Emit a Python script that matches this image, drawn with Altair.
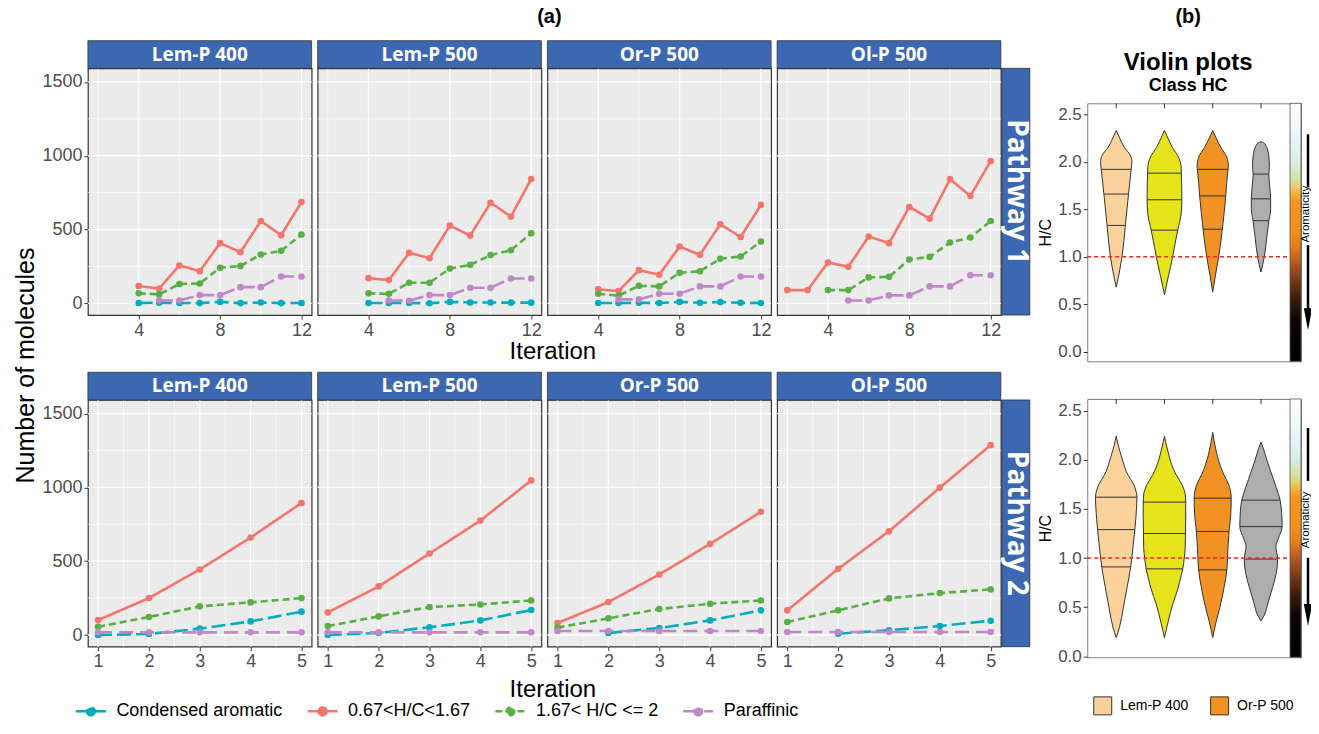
import altair as alt
import pandas as pd

# ---------------- data ----------------
SAMPLES = ["Lem-P 400", "Lem-P 500", "Or-P 500", "Ol-P 500"]
CLASSES = ["Condensed aromatic", "0.67<H/C<1.67", "1.67< H/C <= 2", "Paraffinic"]
CLASS_COLORS = ["#00ADBF", "#F4756C", "#58AF44", "#C188C9"]
CLASS_DASHES = [[14, 5], [1, 0], [7, 4], [14, 7]]
PATHWAYS = ["Pathway 1", "Pathway 2"]

ITER_P1 = [2, 3, 4, 5, 6, 7, 8, 9, 10, 11, 12]
ITER_P2 = [1, 2, 3, 4, 5]

P1_LEM400_COND = [None, None, 3, 5, 3, 2, 10, 2, 6, 2, 3]
P1_LEM400_MID = [None, None, 117, 101, 257, 218, 408, 347, 558, 462, 687]
P1_LEM400_HIGH = [None, None, 68, 61, 131, 135, 241, 254, 331, 356, 466]
P1_LEM400_PARA = [None, None, None, 20, 20, 56, 56, 110, 110, 182, 182]

P1_LEM500_COND = [None, None, 3, 3, 3, 1, 10, 6, 6, 5, 5]
P1_LEM500_MID = [None, None, 171, 158, 342, 306, 527, 459, 682, 588, 842]
P1_LEM500_HIGH = [None, None, 68, 65, 140, 140, 236, 261, 327, 360, 475]
P1_LEM500_PARA = [None, None, None, 20, 18, 56, 56, 106, 106, 169, 169]

P1_ORP500_COND = [None, None, 3, 3, 4, 3, 10, 4, 9, 4, 3]
P1_ORP500_MID = [None, None, 95, 83, 225, 194, 385, 329, 536, 450, 667]
P1_ORP500_HIGH = [None, None, 65, 52, 119, 115, 207, 218, 302, 318, 419]
P1_ORP500_PARA = [None, None, None, 27, 27, 65, 65, 115, 115, 182, 182]

P1_OLP500_COND = [None, None, None, None, None, None, None, None, None, None, None]
P1_OLP500_MID = [90, 90, 277, 248, 453, 408, 653, 574, 842, 727, 964]
P1_OLP500_HIGH = [None, None, 90, 90, 176, 180, 297, 315, 412, 446, 558]
P1_OLP500_PARA = [None, None, None, 20, 20, 54, 54, 115, 115, 191, 191]

P2_LEM400_COND = [0, 7, 43, 92, 158]
P2_LEM400_MID = [101, 250, 444, 660, 894]
P2_LEM400_HIGH = [56, 122, 194, 221, 250]
P2_LEM400_PARA = [18, 18, 18, 18, 18]

P2_LEM500_COND = [0, 14, 52, 99, 169]
P2_LEM500_MID = [153, 329, 552, 775, 1047]
P2_LEM500_HIGH = [61, 126, 189, 207, 234]
P2_LEM500_PARA = [18, 18, 18, 18, 18]

P2_ORP500_COND = [None, 14, 47, 99, 167]
P2_ORP500_MID = [81, 223, 410, 617, 835]
P2_ORP500_HIGH = [50, 113, 176, 212, 234]
P2_ORP500_PARA = [27, 27, 27, 27, 27]

P2_OLP500_COND = [None, 9, 32, 61, 97]
P2_OLP500_MID = [167, 448, 703, 998, 1286]
P2_OLP500_HIGH = [88, 167, 248, 284, 309]
P2_OLP500_PARA = [20, 20, 20, 20, 20]

Y_DOMAIN = [-79, 1592]
Y_MAJOR = [0, 500, 1000, 1500]
Y_MINOR = [250, 750, 1250]
X1_DOMAIN = [1.5, 12.5]
X1_MAJOR = [4, 8, 12]
X1_MINOR = [2, 6, 10]
X2_DOMAIN = [0.8, 5.2]
X2_MAJOR = [1, 2, 3, 4, 5]
X2_MINOR = [1.5, 2.5, 3.5, 4.5]

# violin outlines (H/C value, half width)
VIOLIN_POS = [1, 2, 3, 4]
VIOLIN_COLORS = ["#FCD29C", "#E7E31B", "#F39224", "#ADADAD"]

V1_LEM400_HC = [0.68, 0.85, 1.0, 1.33, 1.66, 1.92, 2.0, 2.07, 2.15, 2.25, 2.33]
V1_LEM400_HW = [0, 0.07, 0.12, 0.19, 0.255, 0.31, 0.325, 0.29, 0.17, 0.07, 0]
V1_LEM500_HC = [0.60, 0.8, 1.0, 1.1, 1.28, 1.45, 1.60, 1.88, 1.95, 2.05, 2.15, 2.25, 2.33]
V1_LEM500_HW = [0, 0.083, 0.17, 0.205, 0.275, 0.345, 0.36, 0.35, 0.345, 0.29, 0.165, 0.07, 0]
V1_ORP500_HC = [0.63, 0.8, 1.0, 1.29, 1.64, 1.92, 1.95, 2.05, 2.15, 2.25, 2.33]
V1_ORP500_HW = [0, 0.055, 0.124, 0.2, 0.27, 0.317, 0.325, 0.29, 0.17, 0.07, 0]
V1_OLP500_HC = [0.84, 1.0, 1.2, 1.38, 1.5, 1.61, 1.75, 1.87, 1.95, 2.05, 2.15, 2.2, 2.21]
V1_OLP500_HW = [0, 0.07, 0.12, 0.165, 0.2, 0.2, 0.18, 0.162, 0.175, 0.165, 0.12, 0.055, 0]

V1_LEM400_Q = [1.33, 1.66, 1.92]
V1_LEM400_QW = [0.19, 0.255, 0.31]
V1_LEM500_Q = [1.28, 1.60, 1.88]
V1_LEM500_QW = [0.275, 0.36, 0.35]
V1_ORP500_Q = [1.29, 1.64, 1.92]
V1_ORP500_QW = [0.2, 0.27, 0.317]
V1_OLP500_Q = [1.38, 1.61, 1.87]
V1_OLP500_QW = [0.165, 0.2, 0.162]

V2_LEM400_HC = [0.19, 0.3, 0.5, 0.7, 0.91, 1.1, 1.29, 1.5, 1.62, 1.68, 1.75, 1.8, 1.88, 1.95, 2.05, 2.15, 2.24]
V2_LEM400_HW = [0, 0.07, 0.15, 0.225, 0.3, 0.345, 0.386, 0.42, 0.43, 0.41, 0.36, 0.3, 0.21, 0.16, 0.1, 0.04, 0]
V2_LEM500_HC = [0.19, 0.36, 0.53, 0.69, 0.75, 0.89, 1.0, 1.1, 1.25, 1.4, 1.57, 1.65, 1.75, 1.85, 1.95, 2.05, 2.15, 2.24]
V2_LEM500_HW = [0, 0.08, 0.17, 0.28, 0.31, 0.38, 0.41, 0.43, 0.435, 0.44, 0.44, 0.43, 0.36, 0.24, 0.15, 0.09, 0.04, 0]
V2_ORP500_HC = [0.19, 0.35, 0.5, 0.7, 0.88, 1.1, 1.27, 1.45, 1.61, 1.68, 1.75, 1.85, 1.95, 2.05, 2.15, 2.28]
V2_ORP500_HW = [0, 0.07, 0.15, 0.235, 0.293, 0.315, 0.338, 0.375, 0.383, 0.37, 0.33, 0.23, 0.15, 0.09, 0.045, 0]
V2_OLP500_HC = [0.36, 0.42, 0.55, 0.7, 0.85, 0.99, 1.12, 1.2, 1.32, 1.45, 1.59, 1.7, 1.8, 1.9, 2.0, 2.1, 2.18]
V2_OLP500_HW = [0, 0.07, 0.15, 0.24, 0.32, 0.345, 0.31, 0.36, 0.438, 0.43, 0.397, 0.33, 0.26, 0.19, 0.12, 0.06, 0]

V2_LEM400_Q = [0.91, 1.29, 1.62]
V2_LEM400_QW = [0.3, 0.386, 0.43]
V2_LEM500_Q = [0.89, 1.25, 1.57]
V2_LEM500_QW = [0.38, 0.435, 0.44]
V2_ORP500_Q = [0.88, 1.27, 1.61]
V2_ORP500_QW = [0.293, 0.338, 0.383]
V2_OLP500_Q = [0.99, 1.32, 1.59]
V2_OLP500_QW = [0.345, 0.438, 0.397]

VX_DOMAIN = [0.4, 4.83]
VY1_DOMAIN = [-0.1, 2.615]
VY2_DOMAIN = [-0.01, 2.62]
HC_TICKS = [0, 0.5, 1.0, 1.5, 2.0, 2.5]
HC_REF = [1.0]

# ---------------- tables ----------------
SERIES = {
    (1, 0): [P1_LEM400_COND, P1_LEM400_MID, P1_LEM400_HIGH, P1_LEM400_PARA],
    (1, 1): [P1_LEM500_COND, P1_LEM500_MID, P1_LEM500_HIGH, P1_LEM500_PARA],
    (1, 2): [P1_ORP500_COND, P1_ORP500_MID, P1_ORP500_HIGH, P1_ORP500_PARA],
    (1, 3): [P1_OLP500_COND, P1_OLP500_MID, P1_OLP500_HIGH, P1_OLP500_PARA],
    (2, 0): [P2_LEM400_COND, P2_LEM400_MID, P2_LEM400_HIGH, P2_LEM400_PARA],
    (2, 1): [P2_LEM500_COND, P2_LEM500_MID, P2_LEM500_HIGH, P2_LEM500_PARA],
    (2, 2): [P2_ORP500_COND, P2_ORP500_MID, P2_ORP500_HIGH, P2_ORP500_PARA],
    (2, 3): [P2_OLP500_COND, P2_OLP500_MID, P2_OLP500_HIGH, P2_OLP500_PARA],
}
rows = []
for (pw, si), series in SERIES.items():
    iters = ITER_P1 if pw == 1 else ITER_P2
    for cls, vals in zip(CLASSES, series):
        for it, v in zip(iters, vals):
            if v is not None:
                rows.append({"pathway": pw, "smp": SAMPLES[si], "cls": cls,
                             "iteration": it, "value": v})
DF_LINES = pd.DataFrame(rows)

VIOLINS = {
    1: [(V1_LEM400_HC, V1_LEM400_HW), (V1_LEM500_HC, V1_LEM500_HW),
        (V1_ORP500_HC, V1_ORP500_HW), (V1_OLP500_HC, V1_OLP500_HW)],
    2: [(V2_LEM400_HC, V2_LEM400_HW), (V2_LEM500_HC, V2_LEM500_HW),
        (V2_ORP500_HC, V2_ORP500_HW), (V2_OLP500_HC, V2_OLP500_HW)],
}
QUARTILES = {
    1: [(V1_LEM400_Q, V1_LEM400_QW), (V1_LEM500_Q, V1_LEM500_QW),
        (V1_ORP500_Q, V1_ORP500_QW), (V1_OLP500_Q, V1_OLP500_QW)],
    2: [(V2_LEM400_Q, V2_LEM400_QW), (V2_LEM500_Q, V2_LEM500_QW),
        (V2_ORP500_Q, V2_ORP500_QW), (V2_OLP500_Q, V2_OLP500_QW)],
}

# ---------------- styling ----------------
FONT = "Liberation Sans"
STRIP_FONT = "Open Sans"
STRIP_BLUE = "#3C68B1"
PW, PH = 224, 247
VW, VH1, VH2 = 214, 258.3, 258.6

SYMBOL_PATH = "M-1,0L1,0M0.26,0A0.26,0.26,0,1,1,-0.26,0A0.26,0.26,0,1,1,0.26,0Z"
LEG_A = dict(orient="none", legendX=-13.5, legendY=627, direction="horizontal", title=None,
             symbolType=SYMBOL_PATH, symbolSize=900, symbolStrokeWidth=2.5,
             labelFontSize=18, labelFont=FONT, labelColor="black", labelOffset=9,
             columnPadding=19, labelLimit=300)

color_scale = alt.Scale(domain=CLASSES, range=CLASS_COLORS)
dash_scale = alt.Scale(domain=CLASSES, range=CLASS_DASHES)


def axis_kw():
    return dict(labelFontSize=18, labelColor="#4D4D4D", labelFont=FONT, tickColor="#333333",
                tickSize=4, tickWidth=1, domain=False, grid=False, labelPadding=2)


def line_panel(pw, si):
    top = pw == 1
    xdom = X1_DOMAIN if top else X2_DOMAIN
    xmaj = X1_MAJOR if top else X2_MAJOR
    xmin = X1_MINOR if top else X2_MINOR
    xs = alt.Scale(domain=xdom, nice=False, zero=False)
    ys = alt.Scale(domain=Y_DOMAIN, nice=False, zero=False)
    d = DF_LINES[(DF_LINES["pathway"] == pw) & (DF_LINES["smp"] == SAMPLES[si])]

    xk = axis_kw()
    xk.update(values=xmaj, format="d")
    if si == 1:
        xk.update(title="Iteration", titleX=235, titleY=36.5 if top else 42.5, titleBaseline="middle",
                  titleFontSize=24, titleFontWeight="normal", titleColor="black", titleFont=FONT)
    else:
        xk.update(title=None)
    xaxis = alt.Axis(**xk)
    if si == 0:
        yk = axis_kw()
        yk.update(values=Y_MAJOR, format="d")
        if top:
            yk.update(title="Number of molecules", titleX=-62, titleY=297, titleBaseline="middle",
                      titleFontSize=25, titleFontWeight="normal", titleColor="black", titleFont=FONT)
        else:
            yk.update(title=None)
        yaxis = alt.Axis(**yk)
    else:
        yaxis = None

    layers = []
    for vals, sw in [(xmin, 0.6), (xmaj, 1.3)]:
        layers.append(alt.Chart(pd.DataFrame({"v": vals})).mark_rule(color="white", strokeWidth=sw)
                      .encode(x=alt.X("v:Q", scale=xs, axis=xaxis)))
    for vals, sw in [(Y_MINOR, 0.6), (Y_MAJOR, 1.3)]:
        layers.append(alt.Chart(pd.DataFrame({"v": vals})).mark_rule(color="white", strokeWidth=sw)
                      .encode(y=alt.Y("v:Q", scale=ys, axis=yaxis)))

    base = alt.Chart(d).encode(
        x=alt.X("iteration:Q", scale=xs, axis=xaxis),
        y=alt.Y("value:Q", scale=ys, axis=yaxis),
        color=alt.Color("cls:N", scale=color_scale, legend=alt.Legend(**LEG_A)),
    )
    layers.append(base.mark_line(strokeWidth=2.6).encode(
        strokeDash=alt.StrokeDash("cls:N", scale=dash_scale, legend=alt.Legend(**LEG_A))))
    layers.append(base.mark_circle(size=44, opacity=1))

    lab = pd.DataFrame({"label": [SAMPLES[si]]})
    layers.append(alt.Chart(lab).mark_rect(fill=STRIP_BLUE, stroke="#333333", strokeWidth=0.8)
                  .encode(x=alt.value(0), x2=alt.value(PW), y=alt.value(-27.7), y2=alt.value(0)))
    layers.append(alt.Chart(lab).mark_text(font=STRIP_FONT, fontWeight="bold", fontSize=19,
                                           color="white", baseline="middle", align="center")
                  .encode(x=alt.value(PW / 2), y=alt.value(-13.8), text="label:N"))
    if si == 3:
        plab = pd.DataFrame({"label": [PATHWAYS[pw - 1]]})
        layers.append(alt.Chart(plab).mark_rect(fill=STRIP_BLUE, stroke="#333333", strokeWidth=0.8)
                      .encode(x=alt.value(PW + 1), x2=alt.value(PW + 29), y=alt.value(0), y2=alt.value(PH)))
        layers.append(alt.Chart(plab).mark_text(font=STRIP_FONT, fontWeight="bold", fontSize=28,
                                                color="white", baseline="middle", align="center", angle=90)
                      .encode(x=alt.value(PW + 15), y=alt.value(PH / 2), text="label:N"))
    if pw == 1 and si == 0:
        layers.append(alt.Chart(pd.DataFrame({"t": ["(a)"]})).mark_text(
            font=FONT, fontWeight="bold", fontSize=20, color="black", baseline="middle", align="center")
            .encode(x=alt.value(462), y=alt.value(-51.7), text="t:N"))

    return alt.layer(*layers).properties(
        width=PW, height=PH,
        view=alt.ViewBackground(fill="#EBEBEB", stroke="#333333", strokeWidth=1.2))


panels = [line_panel(pw, si) for pw in (1, 2) for si in range(4)]
A = alt.concat(*panels, columns=4, bounds="flush",
               spacing={"row": 85, "column": 6}).resolve_scale(x="independent", y="independent")

# ---------------- violins ----------------
vio_color = alt.Scale(domain=SAMPLES, range=VIOLIN_COLORS)
LEG_B = dict(orient="none", legendX=6, legendY=628.5, title=None, columns=2, symbolType="square",
             symbolSize=324, symbolStrokeColor="#333333", symbolStrokeWidth=1, labelFontSize=14,
             labelFont=FONT, labelColor="black", labelOffset=8, columnPadding=19, rowPadding=6)

GRAD = alt.LinearGradient(
    gradient="linear", x1=0, x2=0, y1=1, y2=0,
    stops=[alt.GradientStop(offset=0.0, color="#000000"),
           alt.GradientStop(offset=0.16, color="#0c0503"),
           alt.GradientStop(offset=0.24, color="#3a1a0a"),
           alt.GradientStop(offset=0.30, color="#6a3414"),
           alt.GradientStop(offset=0.36, color="#a34c1d"),
           alt.GradientStop(offset=0.44, color="#e27c20"),
           alt.GradientStop(offset=0.50, color="#f68e1c"),
           alt.GradientStop(offset=0.62, color="#f7951e"),
           alt.GradientStop(offset=0.655, color="#f2b545"),
           alt.GradientStop(offset=0.68, color="#e4d27a"),
           alt.GradientStop(offset=0.71, color="#d3e3a6"),
           alt.GradientStop(offset=0.76, color="#d8ecdc"),
           alt.GradientStop(offset=0.83, color="#e3f1f4"),
           alt.GradientStop(offset=0.92, color="#f2f9fb"),
           alt.GradientStop(offset=1.0, color="#ffffff")])


def spacer(h, texts=()):
    layers = [alt.Chart(pd.DataFrame({"t": [""]})).mark_text(color="white")
              .encode(text="t:N", x=alt.value(0), y=alt.value(0))]
    for txt, yy, fs in texts:
        layers.append(alt.Chart(pd.DataFrame({"t": [txt]})).mark_text(
            font=FONT, fontWeight="bold", fontSize=fs, color="black", baseline="middle",
            align="center").encode(x=alt.value(101), y=alt.value(yy), text="t:N"))
    return alt.layer(*layers).properties(width=VW, height=h)


def violin_panel(idx):
    H = VH1 if idx == 1 else VH2
    ydom = VY1_DOMAIN if idx == 1 else VY2_DOMAIN
    xs = alt.Scale(domain=VX_DOMAIN, nice=False, zero=False)
    ys = alt.Scale(domain=ydom, nice=False, zero=False)
    vrows, qrows = [], []
    for si, ((hc, hw), (q, qw)) in enumerate(zip(VIOLINS[idx], QUARTILES[idx])):
        for a, b in zip(hc, hw):
            vrows.append({"smp": SAMPLES[si], "pos": VIOLIN_POS[si], "hc": a, "hw": b})
        for a, b in zip(q, qw):
            qrows.append({"smp": SAMPLES[si], "pos": VIOLIN_POS[si], "q": a, "qw": b})
    dv = pd.DataFrame(vrows)
    dq = pd.DataFrame(qrows)

    yk = axis_kw()
    yk.update(values=HC_TICKS, format=".1f", labelFontSize=17, title="H/C", titleFontSize=16,
              titleFontWeight="normal", titleColor="black", titleFont=FONT, titlePadding=4)
    yaxis = alt.Axis(**yk)
    layers = []
    one = pd.DataFrame({"t": [""]})
    layers.append(alt.Chart(one).mark_rect(fill=GRAD, stroke="#555555", strokeWidth=0.8)
                  .encode(x=alt.value(203), x2=alt.value(VW), y=alt.value(0), y2=alt.value(H)))
    layers.append(alt.Chart(dv).mark_area(orient="horizontal", interpolate="monotone",
                                          stroke="#333333", strokeWidth=1)
                  .transform_calculate(xl="datum.pos - datum.hw", xr="datum.pos + datum.hw")
                  .encode(y=alt.Y("hc:Q", scale=ys, axis=yaxis),
                          x=alt.X("xl:Q", scale=xs, axis=None), x2="xr:Q",
                          color=alt.Color("smp:N", scale=vio_color, legend=alt.Legend(**LEG_B))))
    layers.append(alt.Chart(dq).mark_rule(color="#333333", strokeWidth=1)
                  .transform_calculate(xl="datum.pos - datum.qw", xr="datum.pos + datum.qw")
                  .encode(y=alt.Y("q:Q", scale=ys, axis=yaxis), x=alt.X("xl:Q", scale=xs, axis=None),
                          x2="xr:Q"))
    layers.append(alt.Chart(pd.DataFrame({"r": HC_REF})).mark_rule(
        color="#E8291C", strokeDash=[4, 3], strokeWidth=1.6)
        .encode(y=alt.Y("r:Q", scale=ys, axis=yaxis), x=alt.value(0), x2=alt.value(203)))
    layers.append(alt.Chart(pd.DataFrame({"p": VIOLIN_POS})).mark_rule(color="#333333", strokeWidth=1)
                  .encode(x=alt.X("p:Q", scale=xs, axis=None), y=alt.value(0), y2=alt.value(5)))
    # aromaticity arrow
    ax = 221
    t_text = 111 if idx == 1 else 121
    t_top0 = 31 if idx == 1 else 29
    t_top1 = 84 if idx == 1 else 82
    t_low0 = 142 if idx == 1 else 159
    layers.append(alt.Chart(one).mark_rule(color="black", strokeWidth=2.5)
                  .encode(x=alt.value(ax), y=alt.value(t_top0), y2=alt.value(t_top1)))
    layers.append(alt.Chart(one).mark_rule(color="black", strokeWidth=2.5)
                  .encode(x=alt.value(ax), y=alt.value(t_low0), y2=alt.value(212)))
    layers.append(alt.Chart(one).mark_point(shape="M-0.38,-1L0.38,-1L0,1Z", size=484, filled=True,
                                            color="black", opacity=1)
                  .encode(x=alt.value(ax), y=alt.value(216.3)))
    layers.append(alt.Chart(pd.DataFrame({"t": ["Aromaticity"]})).mark_text(
        font=FONT, fontSize=11.5, color="black", angle=270, baseline="middle", align="center")
        .encode(x=alt.value(ax - 2), y=alt.value(t_text), text="t:N"))
    return alt.layer(*layers).properties(
        width=VW, height=H,
        view=alt.ViewBackground(fill="white", stroke="#7F7F7F", strokeWidth=1))


B = alt.vconcat(
    spacer(34, [("(b)", -51.7, 20), ("Violin plots", -5.7, 24), ("Class HC", 17.3, 18)]),
    violin_panel(1),
    spacer(34.7),
    violin_panel(2),
    spacing=1, bounds="flush").resolve_scale(x="independent", y="independent")

chart = alt.concat(A, B, columns=2, align="none", spacing=5.5).resolve_scale(
    color="independent", strokeDash="independent", x="independent", y="independent"
).properties(
    padding={"left": 5, "top": -3, "right": -2.5, "bottom": -28}
).configure_view(stroke=None).configure_axis(labelFont=FONT, titleFont=FONT)

chart.save("out.html", embed_options={"renderer": "svg", "actions": False})
